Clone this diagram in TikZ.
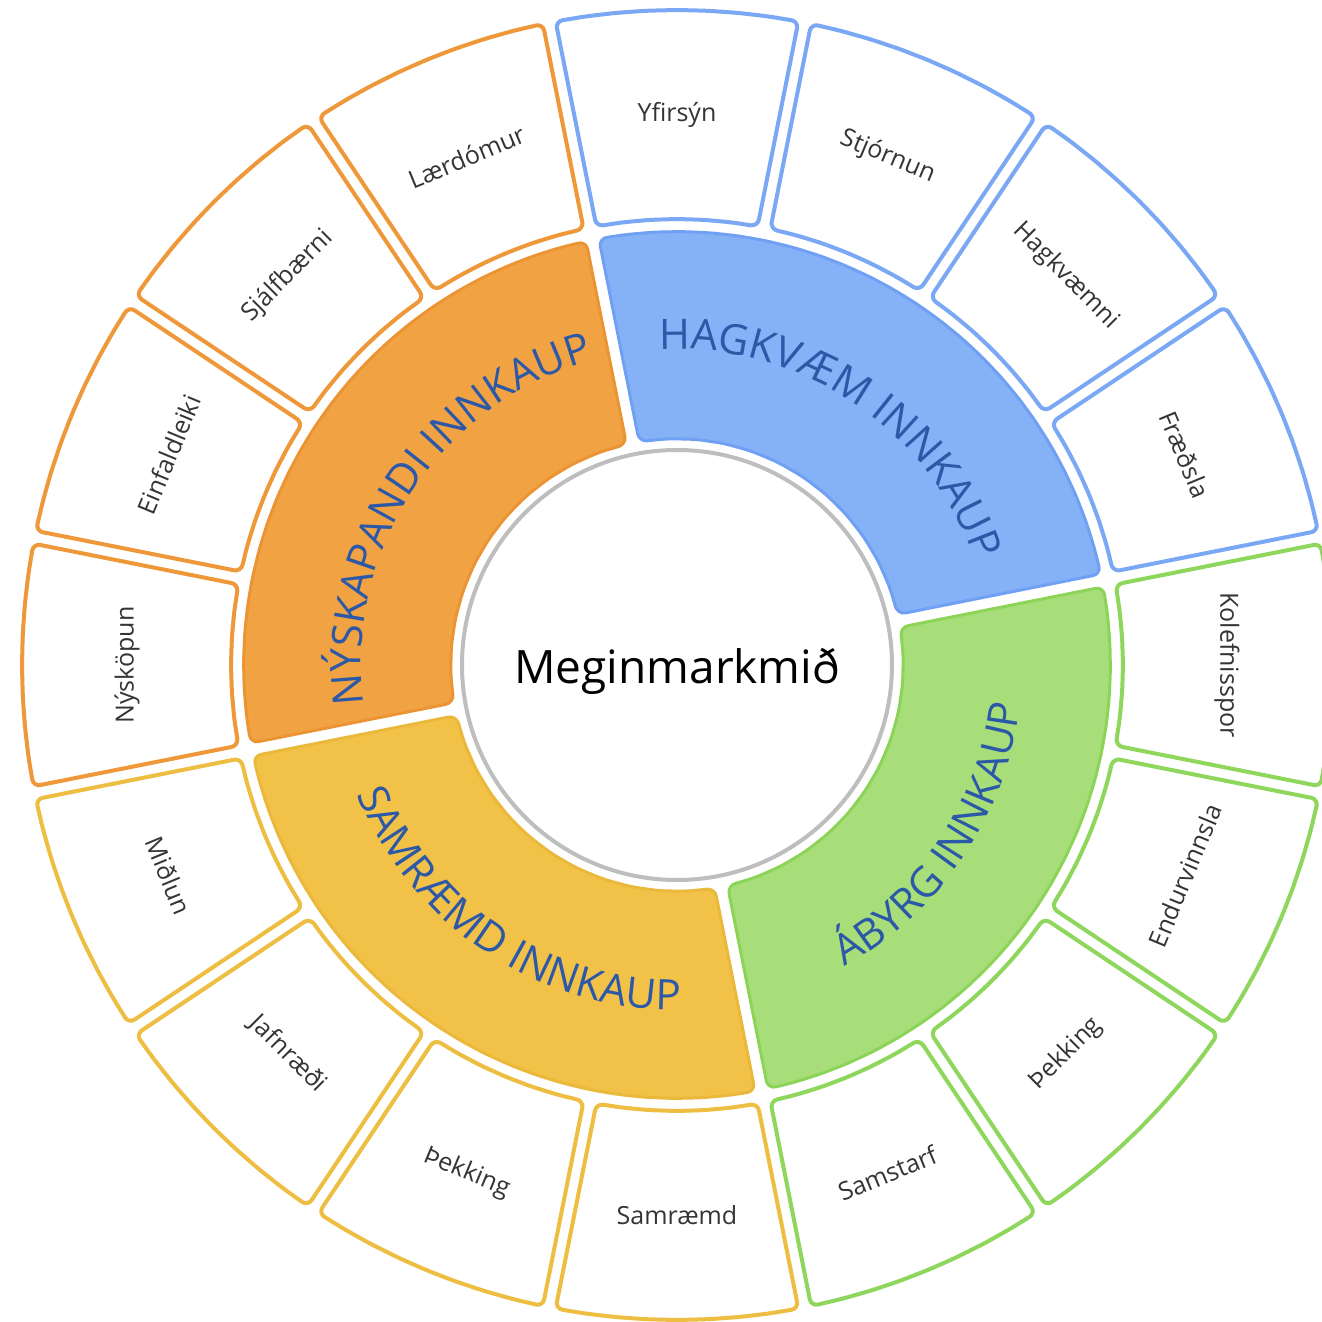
\documentclass[tikz,border=0pt]{standalone}
\usepackage{fontspec}
\setmainfont{Open Sans}
\usetikzlibrary{decorations.text}
\definecolor{orF}{RGB}{241,163,67}
\definecolor{orD}{RGB}{236,148,52}
\definecolor{blF}{RGB}{133,178,246}
\definecolor{blD}{RGB}{112,160,244}
\definecolor{grF}{RGB}{168,222,122}
\definecolor{grD}{RGB}{140,212,88}
\definecolor{yeF}{RGB}{242,194,72}
\definecolor{yeD}{RGB}{234,184,58}
\definecolor{orB}{RGB}{238,152,58}
\definecolor{blB}{RGB}{122,168,245}
\definecolor{grB}{RGB}{143,214,92}
\definecolor{yeB}{RGB}{237,190,66}
\definecolor{midtxt}{RGB}{44,88,168}
\definecolor{lbltxt}{RGB}{52,52,52}
\definecolor{ringgray}{RGB}{190,190,190}
\def\hg{6.5}
\newcommand\annsec[7]{%
  \pgfmathsetmacro\aoA{#2+asin(\hg/#5)}%
  \pgfmathsetmacro\aoB{#3-asin(\hg/#5)}%
  \pgfmathsetmacro\aiA{#2+asin(\hg/#4)}%
  \pgfmathsetmacro\aiB{#3-asin(\hg/#4)}%
  \draw[#1] (\aoA:#5) \foreach \k in {1,...,#6}{ -- ({\aoA+(\aoB-\aoA)*\k/#6}:#5) }
    -- (\aiB:#4) \foreach \k in {1,...,#7}{ -- ({\aiB+(\aiA-\aiB)*\k/#7}:#4) } -- cycle;
}
\tikzset{
  outerseg/.style={line width=4pt, fill=white, draw=#1, rounded corners=7pt, line join=round},
  midseg/.style={line width=3pt, draw=#1, rounded corners=8pt, line join=round},
  lbl/.style={text=lbltxt, font=\fontsize{25}{29}\selectfont, inner sep=0pt},
  midtext/.style={decorate, decoration={text along path, text align=center, text color=midtxt,
     text={|\fontsize{42}{44}\selectfont|#1}}}
}
\begin{document}
\begin{tikzpicture}[x=1pt,y=1pt]
\useasboundingbox (-677,-657) rectangle (645,665);
\clip (-677,-657) rectangle (645,665);
\fill[white] (-677,-657) rectangle (645,665);
% outer ring
\foreach \c/\col in {90/blB,67.5/blB,45/blB,22.5/blB,0/grB,-22.5/grB,-45/grB,-67.5/grB,-90/yeB,-112.5/yeB,-135/yeB,-157.5/yeB,180/orB,157.5/orB,135/orB,112.5/orB}{
  \annsec{outerseg=\col}{\c-11.25}{\c+11.25}{446}{655}{8}{6}
}
% middle ring
\annsec{midseg=blD, fill=blF}{11.25}{101.25}{226.5}{433.5}{24}{12}
\annsec{midseg=grD, fill=grF}{-78.75}{11.25}{226.5}{433.5}{24}{12}
\annsec{midseg=yeD, fill=yeF}{-168.75}{-78.75}{226.5}{433.5}{24}{12}
\annsec{midseg=orD, fill=orF}{101.25}{191.25}{226.5}{433.5}{24}{12}
% curved texts
\path[midtext={HAGKVÆM INNKAUP}] (101.25:316) arc[start angle=101.25, end angle=11.25, radius=316pt];
\path[midtext={NÝSKAPANDI INNKAUP}] (191.25:316) arc[start angle=191.25, end angle=101.25, radius=316pt];
\path[midtext={SAMRÆMD INNKAUP}] (-168.75:345) arc[start angle=-168.75, end angle=-78.75, radius=345pt];
\path[midtext={ÁBYRG INNKAUP}] (-78.75:345) arc[start angle=-78.75, end angle=11.25, radius=345pt];
% centre
\node[circle, draw=ringgray, line width=4pt, fill=white, minimum size=430pt, inner sep=0pt] (core) at (0,0) {};
\node[anchor=base, font=\fontsize{46}{50}\selectfont, text=black, inner sep=0pt] (goal) at (0,-18) {Meginmarkmið};
% outer labels
\node[lbl, rotate=0] (l1) at (90:550) {Yfirsýn};
\node[lbl, rotate=-22.5] (l2) at (67.5:550) {Stjórnun};
\node[lbl, rotate=-45] (l3) at (45:550) {Hagkvæmni};
\node[lbl, rotate=-67.5] (l4) at (22.5:550) {Fræðsla};
\node[lbl, rotate=-90] (l5) at (0:550) {Kolefnisspor};
\node[lbl, rotate=67.5] (l6) at (-22.5:550) {Endurvinnsla};
\node[lbl, rotate=45] (l7) at (-45:550) {Þekking};
\node[lbl, rotate=22.5] (l8) at (-67.5:550) {Samstarf};
\node[lbl, rotate=0] (l9) at (-90:550) {Samræmd};
\node[lbl, rotate=-22.5] (l10) at (-112.5:550) {Þekking};
\node[lbl, rotate=-45] (l11) at (-135:550) {Jafnræði};
\node[lbl, rotate=-67.5] (l12) at (-157.5:550) {Miðlun};
\node[lbl, rotate=90] (l13) at (180:550) {Nýsköpun};
\node[lbl, rotate=67.5] (l14) at (157.5:550) {Einfaldleiki};
\node[lbl, rotate=45] (l15) at (135:550) {Sjálfbærni};
\node[lbl, rotate=22.5] (l16) at (112.5:550) {Lærdómur};
\end{tikzpicture}
\end{document}
